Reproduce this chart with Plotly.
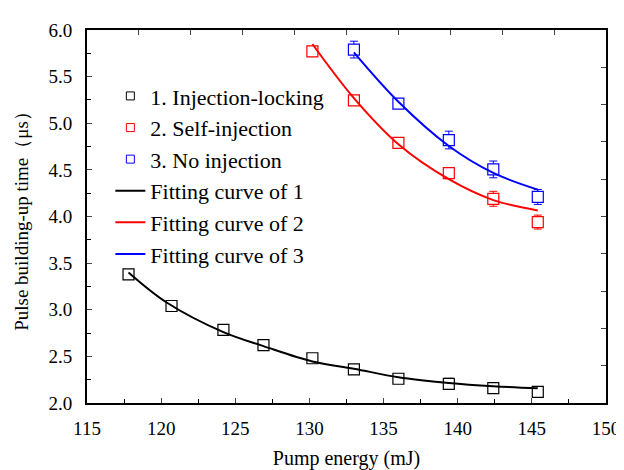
import plotly.graph_objects as go

# ---- data ----
x_inj = [117.8, 120.7, 124.2, 126.9, 130.2, 133.0, 136.0, 139.4, 142.4, 145.4]
y_inj = [3.38, 3.04, 2.785, 2.62, 2.48, 2.36, 2.26, 2.205, 2.16, 2.12]
e_inj = [0.03, 0.03, 0.03, 0.03, 0.03, 0.05, 0.05, 0.06, 0.05, 0.03]

x_self = [130.2, 133.0, 136.0, 139.4, 142.4, 145.4]
y_self = [5.77, 5.245, 4.79, 4.465, 4.19, 3.94]
e_self = [0.03, 0.03, 0.03, 0.06, 0.08, 0.075]

x_none = [133.0, 136.0, 139.4, 142.4, 145.4]
y_none = [5.79, 5.21, 4.82, 4.505, 4.21]
e_none = [0.09, 0.03, 0.095, 0.09, 0.08]

# fitted curves
fx_inj = [117.8, 120.4, 124.2, 126.9, 130.2, 133.0, 136.0, 139.4, 142.4, 145.4]
fy_inj = [3.40, 3.075, 2.76, 2.61, 2.445, 2.368, 2.276, 2.215, 2.18, 2.157]

fx_self = [130.2, 133.0, 136.0, 139.4, 142.4, 145.4]
fy_self = [5.85, 5.27, 4.775, 4.40, 4.176, 4.065]

fx_none = [133.0, 136.0, 139.4, 142.4, 145.4]
fy_none = [5.76, 5.23, 4.756, 4.467, 4.288]

names_pts = ["1. Injection-locking", "2. Self-injection", "3. No injection"]
names_fit = ["Fitting curve of 1", "Fitting curve of 2", "Fitting curve of 3"]
colors = ["#000000", "#FF0000", "#0000FF"]

FONT = "Liberation Serif"

fig = go.Figure()

pts = [(x_inj, y_inj, e_inj), (x_self, y_self, e_self), (x_none, y_none, e_none)]
fits = [(fx_inj, fy_inj), (fx_self, fy_self), (fx_none, fy_none)]

# data points with error bars (white-filled squares hide the bar inside)
for (x, y, e), c in zip(pts, colors):
    fig.add_trace(go.Scatter(
        x=x, y=y, mode="markers",
        marker=dict(symbol="square", size=11, color="white", line=dict(width=1.2, color=c)),
        error_y=dict(type="data", array=e, visible=True, width=4, thickness=1, color=c),
        showlegend=False))

# fitted curves on top
for (fx, fy), c in zip(fits, colors):
    fig.add_trace(go.Scatter(x=fx, y=fy, mode="lines", line=dict(color=c, width=2, shape="spline"),
                             showlegend=False, hoverinfo="skip"))

# legend entries
for n, c in zip(names_pts, colors):
    fig.add_trace(go.Scatter(x=[None], y=[None], mode="markers", name=n,
                             marker=dict(symbol="square-open", size=8, color=c, line=dict(width=1, color=c))))
for n, c in zip(names_fit, colors):
    fig.add_trace(go.Scatter(x=[None], y=[None], mode="lines", name=n, line=dict(color=c, width=2)))

# helper trace for top/right frame axes
fig.add_trace(go.Scatter(x=[None], y=[None], xaxis="x2", yaxis="y2", showlegend=False, hoverinfo="skip"))

tickfont = dict(family=FONT, size=19, color="black")

fig.update_layout(
    width=624, height=470,
    margin=dict(l=78, r=16, t=17, b=62),
    paper_bgcolor="white", plot_bgcolor="white",
    font=dict(family=FONT, color="black"),
    showlegend=True,
    legend=dict(x=0.045, y=0.879, xanchor="left", yanchor="top", bgcolor="rgba(0,0,0,0)",
                font=dict(family=FONT, size=22, color="black"), traceorder="normal",
                tracegroupgap=0, itemwidth=30),
    xaxis=dict(range=[115, 150], dtick=5, tick0=115, ticks="inside", ticklen=5, tickwidth=1.2,
               showgrid=False, zeroline=False, showline=True, linewidth=2, linecolor="black",
               tickfont=tickfont, ticklabelstandoff=7,
               minor=dict(dtick=2.5, ticks="inside", ticklen=4, tickwidth=1.2, tickcolor="black"),
               title=dict(text="Pump energy (mJ)", font=dict(family=FONT, size=20), standoff=13)),
    yaxis=dict(range=[2.0, 6.0], dtick=0.5, tick0=2.0, ticks="inside", ticklen=5, tickwidth=1.2,
               tickformat=".1f", showgrid=False, zeroline=False, showline=True, linewidth=2,
               linecolor="black", tickfont=tickfont, ticklabelstandoff=9,
               minor=dict(dtick=0.25, ticks="inside", ticklen=4, tickwidth=1.2, tickcolor="black"),
               title=dict(text="Pulse building-up time（μs）", font=dict(family=FONT, size=19), standoff=15)),
    xaxis2=dict(overlaying="x", side="top", anchor="y", range=[0, 10], dtick=1, ticks="inside",
                ticklen=5, tickwidth=1.2, showticklabels=False, showgrid=False, zeroline=False,
                showline=True, linewidth=1.5, linecolor="black"),
    yaxis2=dict(overlaying="y", side="right", anchor="x", range=[0, 10], dtick=1, ticks="inside",
                ticklen=5, tickwidth=1.2, showticklabels=False, showgrid=False, zeroline=False,
                showline=True, linewidth=2, linecolor="black"),
)

fig.write_html("out.html")
